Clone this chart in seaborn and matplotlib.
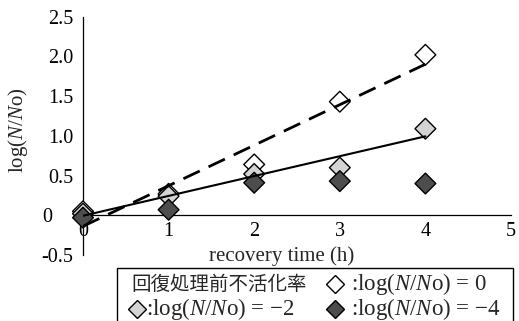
import numpy as np
import pandas as pd
import matplotlib
matplotlib.use("Agg")
import matplotlib.pyplot as plt
from matplotlib.lines import Line2D
from matplotlib.patches import Rectangle
import seaborn as sns

# recovery time (h)
hours = [0, 1, 2, 3, 4]
# log(N/No) after recovery, by inactivation level before recovery
surv_0 = [0.05, 0.27, 0.64, 1.43, 2.02]
surv_m2 = [0.02, 0.24, 0.52, 0.60, 1.09]
surv_m4 = [-0.03, 0.07, 0.41, 0.43, 0.40]

series_names = ["0", "-2", "-4"]
xticks = [0, 1, 2, 3, 4, 5]
yticks = [-0.5, 0, 0.5, 1.0, 1.5, 2.0, 2.5]
ytick_labels = ["-0.5", "0    ", "0.5", "1.0", "1.5", "2.0", "2.5"]
xlabel = "recovery time (h)"
ylabel = r"log($\mathit{N}$/$\mathit{N}$o)"
key_title = "回復処理前不活化率"
key_labels = [r":log($\mathit{N}$/$\mathit{N}$o) = 0",
              r":log($\mathit{N}$/$\mathit{N}$o) = −2",
              r":log($\mathit{N}$/$\mathit{N}$o) = −4"]

face = {"0": "white", "-2": "#d4d4d4", "-4": "#4d4d4d"}

sns.set_style("white")
plt.rcParams["font.family"] = ["Liberation Serif", "DejaVu Serif"]
plt.rcParams["mathtext.fontset"] = "custom"
plt.rcParams["mathtext.rm"] = "Liberation Serif"
plt.rcParams["mathtext.it"] = "Liberation Serif:italic"

df = pd.DataFrame({
    "hour": hours * 3,
    "value": surv_0 + surv_m2 + surv_m4,
    "series": [s for s in series_names for _ in hours],
})

W, H = 519, 321
fig = plt.figure(figsize=(W / 100, H / 100), dpi=100)
ax = fig.add_axes([83 / W, 66 / H, 428 / W, 238.3 / H])

sns.scatterplot(data=df, x="hour", y="value", hue="series", palette=face,
                marker="D", s=112, edgecolor="black", linewidth=1.0,
                legend=False, ax=ax, clip_on=False, zorder=3)

# linear trend lines
sns.regplot(x=hours, y=surv_0, scatter=False, ci=None, ax=ax,
            line_kws=dict(color="black", lw=2.0, ls=(0, (6.5, 3.5)), zorder=4))
sns.regplot(x=hours, y=surv_m2, scatter=False, ci=None, ax=ax,
            line_kws=dict(color="black", lw=1.5, zorder=4))

ax.set_xlim(0, 5)
ax.set_ylim(-0.5, 2.5)
ax.set_xticks(xticks)
ax.set_xticklabels([str(t) for t in xticks])
ax.set_yticks(yticks)
ax.set_yticklabels(ytick_labels)
for s in ("top", "right"):
    ax.spines[s].set_visible(False)
ax.spines["bottom"].set_position(("data", 0))
for s in ("left", "bottom"):
    ax.spines[s].set_color("black")
    ax.spines[s].set_linewidth(0.9)
ax.tick_params(axis="both", direction="in", length=5, width=0.8,
               colors="black", labelsize=14.5)
ax.tick_params(axis="y", pad=7)
ax.tick_params(axis="x", pad=5)
ax.set_xlabel(xlabel, fontsize=15)
ax.xaxis.set_label_coords(0.465, 0.038)
ax.xaxis.label.set_va("top")
ax.set_ylabel(ylabel, fontsize=15)
ax.yaxis.set_label_coords(-0.124, 0.525)

# key box below the plot
def fx(px):
    return px / W

def fy(py):
    return 1 - py / H

fig.patches.append(Rectangle((fx(117), fy(335)), fx(513) - fx(117), fy(268) - fy(335),
                             transform=fig.transFigure, fill=False,
                             edgecolor="black", lw=1.0))
fig.text(fx(131), fy(284), key_title, fontsize=14,
         family=["Noto Sans CJK JP", "DejaVu Sans"], va="center", ha="left")
key_items = [("0", 335, 284, 16, key_labels[0]),
             ("-2", 137, 309, 9, key_labels[1]),
             ("-4", 335, 309, 16, key_labels[2])]
for name, kx, ky, gap, lbl in key_items:
    fig.add_artist(Line2D([fx(kx)], [fy(ky)], marker="D", markersize=9,
                          markerfacecolor=face[name], markeredgecolor="black",
                          markeredgewidth=1.0, linestyle="none",
                          transform=fig.transFigure))
    fig.text(fx(kx + gap), fy(ky), lbl, fontsize=16.5, va="center", ha="left")

fig.savefig("out.png", dpi=100)
